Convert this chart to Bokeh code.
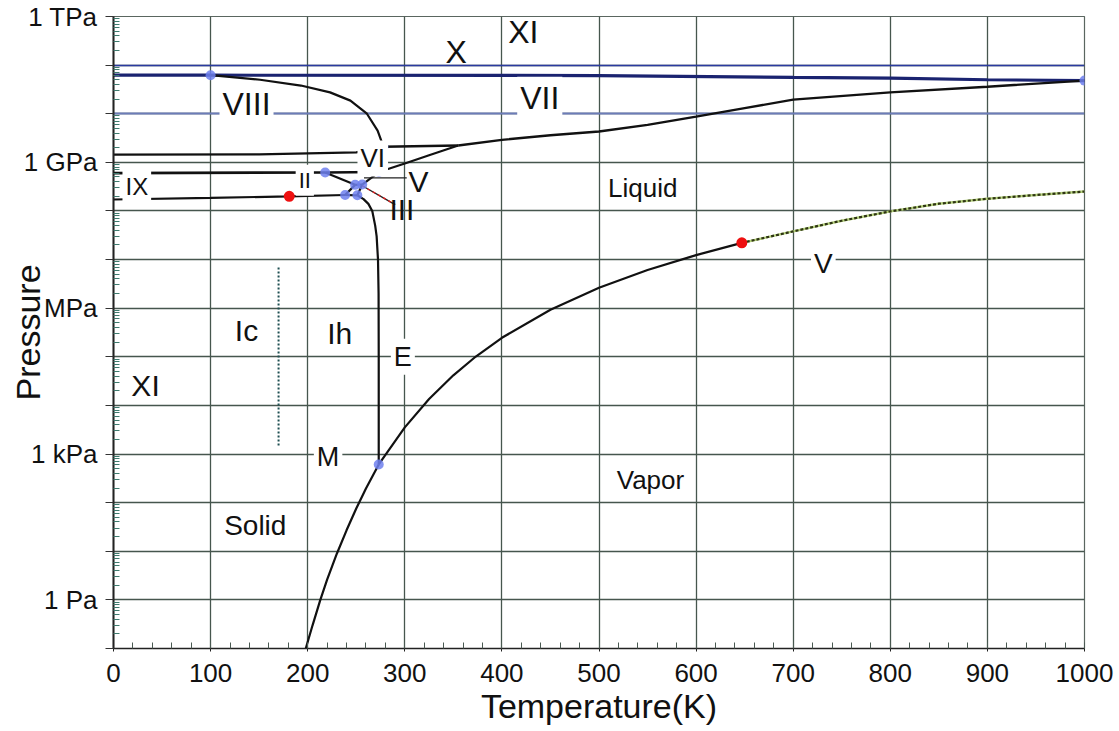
import numpy as np
from bokeh.plotting import figure
from bokeh.models import (Label, FixedTicker, SingleIntervalTicker,
                          CustomJSTickFormatter, Grid, Range1d)
from bokeh.embed import file_html
from bokeh.resources import INLINE

# ---------------------------------------------------------------
# Phase boundaries of water: temperature in K, pressure in Pa
# ---------------------------------------------------------------
sublimation_T = [198, 205, 213, 220, 230, 240, 250, 260, 273.16]
sublimation_P = [0.1, 0.3, 1.0, 2.6, 8.9, 27, 76, 196, 611.657]

vaporization_T = [273.16, 300, 325, 350, 373.15, 400, 450, 500, 550, 600, 647.1]
vaporization_P = [611.657, 3537, 13500, 41680, 101325, 245800, 932000,
                  2.639e6, 6.117e6, 12.34e6, 22.064e6]

supercritical_T = [647.1, 700, 750, 800, 850, 900, 950, 1000]
supercritical_P = [22.064e6, 38e6, 63e6, 98e6, 141e6, 178e6, 213e6, 251e6]

melt_ih_T = [273.16, 273.15, 273.0, 272.4, 271.0, 269.5, 266.5, 262.5, 257.5, 251.165]
melt_ih_P = [611.657, 1e5, 2e6, 1e7, 3e7, 5e7, 1e8, 1.4e8, 1.75e8, 2.099e8]

ih_ii_T = [0, 100, 181, 238.55]
ih_ii_P = [1.72e8, 1.85e8, 2.0e8, 2.129e8]

ih_iii_T = [238.55, 251.165]
ih_iii_P = [2.129e8, 2.099e8]

ii_iii_T = [238.55, 248.85]
ii_iii_P = [2.129e8, 3.443e8]

iii_v_T = [248.85, 256.165]
iii_v_P = [3.443e8, 3.501e8]

iii_liq_T = [251.165, 256.165]
iii_liq_P = [2.099e8, 3.501e8]

ii_v_T = [248.85, 218]
ii_v_P = [3.443e8, 6.2e8]

ii_vi_T = [0, 218]
ii_vi_P = [6.0e8, 6.2e8]

v_vi_T = [218, 273.31]
v_vi_P = [6.2e8, 6.324e8]

v_liq_T = [256.165, 273.31]
v_liq_P = [3.501e8, 6.324e8]

vi_liq_T = [273.31, 300, 325, 355]
vi_liq_P = [6.324e8, 9.5e8, 1.4e9, 2.216e9]

vii_liq_T = [355, 400, 450, 500, 550, 600, 650, 700, 800, 900, 1000]
vii_liq_P = [2.216e9, 2.9e9, 3.6e9, 4.3e9, 5.9e9, 8.7e9, 1.3e10,
             1.95e10, 2.75e10, 3.6e10, 4.8e10]

vi_vii_T = [278, 355]
vi_vii_P = [2.1e9, 2.216e9]

vi_viii_T = [0, 150, 250, 278]
vi_viii_P = [1.44e9, 1.46e9, 1.6e9, 2.1e9]

vii_viii_T = [100, 151, 193, 223, 244, 261, 272, 278]
vii_viii_P = [6.2e10, 5.0e10, 3.8e10, 2.75e10, 1.86e10, 1.0e10, 4.5e9, 2.1e9]

x_boundary_T = [0, 100, 500, 700, 800, 900, 1000]
x_boundary_P = [6.2e10, 6.2e10, 6.1e10, 5.6e10, 5.4e10, 5.0e10, 4.8e10]

ic_ih_T = [170, 170]
ic_ih_P = [1.5e3, 7e6]

# triple points (blue) and critical-type points (red)
triple_T = [273.16, 251.165, 238.55, 248.85, 256.165, 218, 273.31, 278, 100, 1000]
triple_P = [611.657, 2.099e8, 2.129e8, 3.443e8, 3.501e8, 6.2e8, 6.324e8,
            2.1e9, 6.2e10, 4.8e10]

critical_T = [181, 647.1]
critical_P = [2.0e8, 22.064e6]

# pressure axis labels (decade exponent -> text)
pressure_exps = [0, 3, 6, 9, 12]
pressure_names = ["1 Pa", "1 kPa", "MPa", "1 GPa", "1 TPa"]

FONT = "Liberation Sans"

p = figure(width=1119, height=731,
           x_range=Range1d(0, 1000), y_range=Range1d(0.1, 1e12),
           y_axis_type="log",
           output_backend="svg", toolbar_location=None,
           min_border_left=113, min_border_right=35,
           min_border_top=16, min_border_bottom=83)
p.background_fill_color = "white"
p.border_fill_color = "white"
p.outline_line_color = "#5a6660"
p.outline_line_width = 1.2

# ---- axes ----
p.xaxis.ticker = SingleIntervalTicker(interval=100, num_minor_ticks=5)
p.xaxis.axis_label = "Temperature(K)"
p.xaxis.axis_label_text_font = FONT
p.xaxis.axis_label_text_font_size = "34px"
p.xaxis.axis_label_text_font_style = "normal"
p.xaxis.axis_label_text_color = "#111111"
p.xaxis.axis_label_standoff = 2
p.xaxis.major_label_text_font = FONT
p.xaxis.major_label_text_font_size = "26px"
p.xaxis.major_label_text_color = "#111111"
p.xaxis.major_label_standoff = 12
p.xaxis.major_tick_in = 0
p.xaxis.major_tick_out = 3
p.xaxis.minor_tick_in = 6
p.xaxis.minor_tick_out = 0
p.xaxis.axis_line_color = "#222222"
p.xaxis.axis_line_width = 1.6
p.xaxis.major_tick_line_color = "#222222"
p.xaxis.minor_tick_line_color = "#4a5a52"

decades = [10.0 ** k for k in range(-1, 13)]
minors = [m * 10.0 ** k for k in range(-1, 12) for m in range(2, 10)]
p.yaxis.ticker = FixedTicker(ticks=decades, minor_ticks=minors)
p.yaxis.formatter = CustomJSTickFormatter(
    args=dict(exps=pressure_exps, names=pressure_names),
    code="""
        const e = Math.round(Math.log10(tick));
        const i = exps.indexOf(e);
        return i >= 0 ? names[i] : "";
    """)
p.yaxis.axis_label = "Pressure"
p.yaxis.axis_label_text_font = FONT
p.yaxis.axis_label_text_font_size = "34px"
p.yaxis.axis_label_text_font_style = "normal"
p.yaxis.axis_label_text_color = "#111111"
# the title tucks in beside the short "MPa" label
p.yaxis.axis_label_standoff = -26
p.yaxis.major_label_text_font = FONT
p.yaxis.major_label_text_font_size = "26px"
p.yaxis.major_label_text_color = "#111111"
p.yaxis.major_label_standoff = 8
p.yaxis.major_tick_in = 0
p.yaxis.major_tick_out = 8
p.yaxis.minor_tick_in = 6
p.yaxis.minor_tick_out = 0
p.yaxis.axis_line_color = "#222222"
p.yaxis.axis_line_width = 2
p.yaxis.major_tick_line_color = "#333333"
p.yaxis.minor_tick_line_color = "#3f7a6e"

# ---- grid ----
p.xgrid.grid_line_color = "#46564e"
p.xgrid.grid_line_width = 1.3
p.ygrid.grid_line_color = "#46564e"
p.ygrid.grid_line_width = 1.3
p.add_layout(Grid(dimension=1, ticker=FixedTicker(ticks=[1e11]),
                  grid_line_color="#2a3aa0", grid_line_width=1.6))
p.add_layout(Grid(dimension=1, ticker=FixedTicker(ticks=[1e10]),
                  grid_line_color="#6c7cb8", grid_line_width=1.8))

# ---- phase boundaries ----
def boundary(T, P, color="#111111", width=2.2, **kw):
    p.line(T, P, line_color=color, line_width=width, **kw)

boundary(x_boundary_T, x_boundary_P, color="#1a2370", width=3.2)
boundary(sublimation_T, sublimation_P)
boundary(vaporization_T, vaporization_P)
p.line(supercritical_T, supercritical_P, line_color="#b4d07a", line_width=2.4)
p.line(supercritical_T, supercritical_P, line_color="#2e3414",
       line_width=2.2, line_dash="3 2")
boundary(melt_ih_T, melt_ih_P)
boundary(ih_ii_T, ih_ii_P)
boundary(ih_iii_T, ih_iii_P)
boundary(ii_iii_T, ii_iii_P)
boundary(iii_v_T, iii_v_P)
boundary(iii_liq_T, iii_liq_P)
boundary(ii_v_T, ii_v_P)
boundary(ii_vi_T, ii_vi_P, width=2.6)
boundary(v_vi_T, v_vi_P, width=2.4)
boundary(v_liq_T, v_liq_P)
boundary(vi_liq_T, vi_liq_P)
boundary(vii_liq_T, vii_liq_P, width=2.4)
boundary(vi_vii_T, vi_vii_P, width=2.4)
boundary(vi_viii_T, vi_viii_P, width=2.4)
boundary(vii_viii_T, vii_viii_P)
p.line(ic_ih_T, ic_ih_P, line_color="#1f4f52", line_width=2, line_dash="2 2")

# leader lines from the small III / V fields to their labels
p.line([256.165, 290], [3.3e8, 10 ** 8.13], line_color="#222222", line_width=1.4)
p.line([256.165, 290], [3.3e8, 10 ** 8.13], line_color="#e02020",
       line_width=1.4, line_dash="3 3")
p.line([258, 302], [10 ** 8.68, 10 ** 8.68], line_color="#222222", line_width=1.4)

# ---- points ----
p.scatter(triple_T, triple_P, size=10, fill_color="#6f80ee",
          fill_alpha=0.85, line_color=None)
p.scatter(critical_T, critical_P, size=11, fill_color="#ee1010", line_color=None)

# ---- region labels: (text, T, log10 P, font px, white box) ----
labels = [
    ("X", 353, 11.28, 32, False),
    ("XI", 422, 11.69, 32, False),
    ("VIII", 137, 10.19, 32, True),
    ("VII", 439, 10.33, 32, True),
    ("VI", 267, 9.08, 26, True),
    ("V", 314, 8.60, 30, False),
    ("III", 297, 8.03, 30, False),
    ("II", 197, 8.63, 22, True),
    ("IX", 24, 8.50, 24, True),
    ("Liquid", 545, 8.48, 26, False),
    ("V", 731, 6.92, 28, True),
    ("Ic", 137, 5.54, 30, False),
    ("Ih", 233, 5.48, 30, False),
    ("E", 298, 5.0, 27, True),
    ("XI", 33, 4.41, 30, False),
    ("M", 221, 2.93, 27, True),
    ("Vapor", 553, 2.47, 26, False),
    ("Solid", 146, 1.53, 28, False),
]
for text, t, lp, size, box in labels:
    kw = dict(background_fill_color="white", padding=3) if box else {}
    p.add_layout(Label(x=t, y=10 ** lp, text=text,
                       text_font=FONT, text_font_size=f"{size}px",
                       text_align="center", text_baseline="middle",
                       text_color="#111111", **kw))

open("out.html", "w").write(file_html(p, INLINE))
